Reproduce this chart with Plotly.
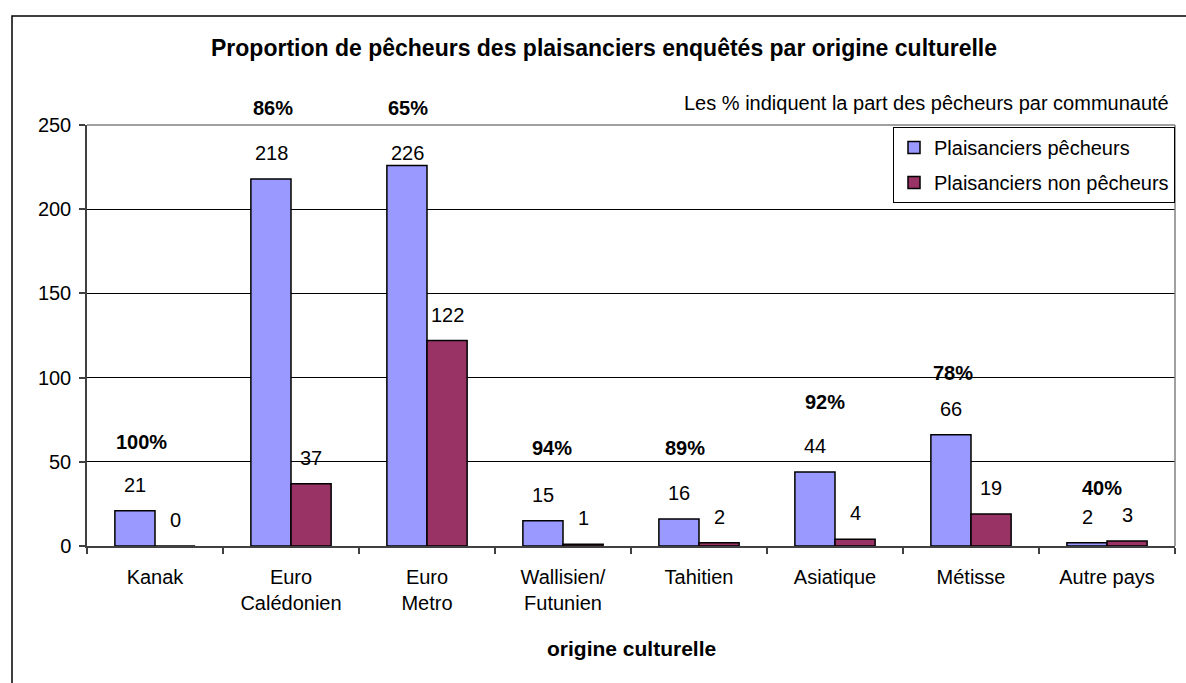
import plotly.graph_objects as go

# ---- data ----
categories = ["Kanak", "Euro<br>Calédonien", "Euro<br>Metro", "Wallisien/<br>Futunien",
              "Tahitien", "Asiatique", "Métisse", "Autre pays"]
pecheurs = [21, 218, 226, 15, 16, 44, 66, 2]
non_pecheurs = [0, 37, 122, 1, 2, 4, 19, 3]
pct_pecheurs = [100, 86, 65, 94, 89, 92, 78, 40]
y_ticks = [0, 50, 100, 150, 200, 250]

title_text = "Proportion de pêcheurs des plaisanciers enquêtés par origine culturelle"
subtitle_text = "Les % indiquent la part des pêcheurs par communauté"
xaxis_title = "origine culturelle"
name_p = "Plaisanciers pêcheurs"
name_np = "Plaisanciers non pêcheurs"

# ---- layout constants ----
FONT = "Liberation Sans, Arial, sans-serif"
BLUE = "#9999FF"
RED = "#993366"
W, H = 1186, 683
L, R, T, B = 87, 11, 125, 137
PW, PH = W - L - R, H - T - B
label_cap = 218              # labels never go above this level (fits under the title area)
pct_yshift = [69, 71, 71, 73, 71, 70, 62, 53]
pct_xshift = [6, 2, 1, 9, 6, 10, 2, 15]
FS = 20

def px_x(px):
    return (px - L) / PW

def px_y(py):
    return (H - B - py) / PH

fig = go.Figure()
fig.add_trace(go.Bar(x=categories, y=pecheurs, name=name_p, legendgroup="p",
                     marker=dict(color=BLUE, line=dict(color="black", width=1.5))))
fig.add_trace(go.Bar(x=categories, y=non_pecheurs, name=name_np, legendgroup="np",
                     marker=dict(color=RED, line=dict(color="black", width=1.5))))

ann = []
for i, c in enumerate(categories):
    b, r = pecheurs[i], non_pecheurs[i]
    ann.append(dict(x=c, y=min(b, label_cap), xref="x", yref="y", text=str(b),
                    showarrow=False, xshift=-20, yshift=26, yanchor="middle",
                    font=dict(family=FONT, size=FS, color="black")))
    ann.append(dict(x=c, y=min(r, label_cap), xref="x", yref="y", text=str(r),
                    showarrow=False, xshift=20, yshift=26, yanchor="middle",
                    font=dict(family=FONT, size=FS, color="black")))
    ann.append(dict(x=c, y=min(max(b, r), label_cap), xref="x", yref="y",
                    text="<b>%d%%</b>" % pct_pecheurs[i], showarrow=False,
                    xshift=-20 + pct_xshift[i], yshift=pct_yshift[i], yanchor="middle",
                    font=dict(family=FONT, size=FS, color="black")))

ann.append(dict(x=px_x(604), y=px_y(48), xref="paper", yref="paper",
                text="<b>" + title_text + "</b>", showarrow=False,
                xanchor="center", yanchor="middle",
                font=dict(family=FONT, size=23, color="black")))
ann.append(dict(x=px_x(1171), y=px_y(103), xref="paper", yref="paper",
                text=subtitle_text, showarrow=False, xanchor="right", yanchor="middle",
                font=dict(family=FONT, size=20, color="black")))
ann.append(dict(x=0.5, y=px_y(648), xref="paper", yref="paper",
                text="<b>" + xaxis_title + "</b>", showarrow=False,
                xanchor="center", yanchor="middle",
                font=dict(family=FONT, size=21, color="black")))

shapes = [
    # outer chart border (cropped at right/bottom)
    dict(type="rect", xref="paper", yref="paper", x0=px_x(12), y0=px_y(692),
         x1=px_x(1192), y1=px_y(16), line=dict(color="black", width=1.5), layer="below"),
    # plot-area border top/right in gray
    dict(type="line", xref="paper", yref="paper", x0=0, x1=1, y0=1, y1=1,
         line=dict(color="#808080", width=1.5), layer="above"),
    dict(type="line", xref="paper", yref="paper", x0=1, x1=1, y0=0, y1=1,
         line=dict(color="#808080", width=1.5), layer="above"),
]

fig.update_layout(
    width=W, height=H,
    margin=dict(l=L, r=R, t=T, b=B, autoexpand=False),
    paper_bgcolor="white", plot_bgcolor="white",
    font=dict(family=FONT, size=FS, color="black"),
    barmode="group", bargap=0.41, bargroupgap=0,
    showlegend=True,
    legend=dict(x=1, xanchor="right", y=px_y(127), yanchor="top",
                bgcolor="white", bordercolor="black", borderwidth=1,
                font=dict(family=FONT, size=FS, color="black"),
                traceorder="grouped", tracegroupgap=6, itemwidth=30),
    annotations=ann, shapes=shapes,
)
fig.update_xaxes(type="category", showline=True, linecolor="#404040", linewidth=1.5,
                 ticks="outside", tickson="boundaries", ticklen=6, tickcolor="#404040",
                 tickwidth=1.5, showgrid=False, ticklabelstandoff=12,
                 tickfont=dict(family=FONT, size=FS, color="black"))
fig.update_yaxes(range=[0, 250], tickvals=y_ticks, showline=True, linecolor="#404040",
                 linewidth=1.5, ticks="outside", ticklen=6, tickcolor="#404040", tickwidth=1.5,
                 showgrid=True, gridcolor="black", gridwidth=1, zeroline=False,
                 ticklabelstandoff=4,
                 tickfont=dict(family=FONT, size=FS, color="black"))

fig.write_html("out.html", config={"displayModeBar": False},
               post_script="document.body.style.margin='0';")
